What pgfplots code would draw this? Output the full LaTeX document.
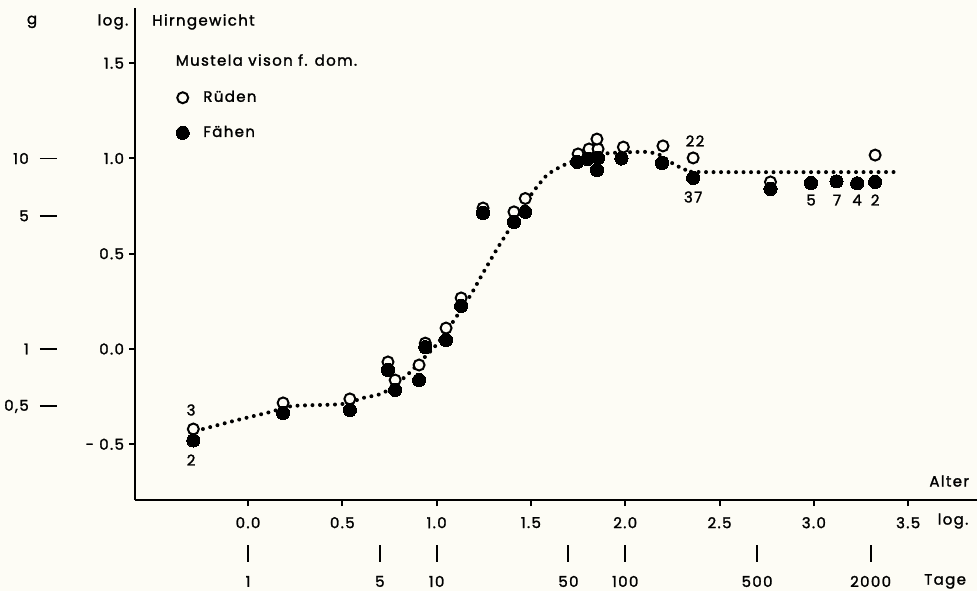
\documentclass[border=0pt]{standalone}
\usepackage{fontspec}
\setmainfont{Poppins}[LetterSpace=9, FakeBold=1.6]
\usepackage{xcolor}
\usepackage{pgfplots}
\pgfplotsset{compat=1.18}
\definecolor{bg}{RGB}{253,252,245}
\pagecolor{bg}
\begin{document}
\begin{tikzpicture}[font=\fontsize{7.5}{8.5}\selectfont]
\begin{axis}[
  x=94.3pt, y=95.25pt,
  xmin=-0.599, xmax=3.865, ymin=-0.793, ymax=1.79,
  axis x line=bottom, axis y line=left,
  axis line style={-, line width=1pt, black},
  xtick={0,0.5,1,1.5,2,2.5,3,3.5},
  xticklabels={0.0,0.5,1.0,1.5,2.0,2.5,3.0,3.5},
  ytick={-0.5,0,0.5,1,1.5},
  yticklabels={- 0.5,0.0,0.5,1.0,1.5},
  tick align=outside, major tick length=3pt,
  tick style={line width=1pt, black},
  xticklabel style={yshift=-2pt},
  yticklabel style={xshift=1pt},
  clip=false,
  legend style={at={(axis cs:-0.415,1.40)}, anchor=north west, draw=none, fill=none,
    row sep=6.5pt, column sep=5pt, font=\fontsize{7.5}{8.5}\selectfont},
  legend cell align=left,
]
% smooth trend curve (dotted)
\addplot[forget plot, black, line width=2pt, line cap=round, dash pattern=on 0pt off 3.75pt, smooth, tension=0.4] coordinates {
(-0.239,-0.42) (-0.058,-0.373) (0.117,-0.331) (0.239,-0.299) (0.498,-0.289)
(0.61,-0.257) (0.716,-0.231) (0.832,-0.147) (0.912,-0.068) (1.002,0.026)
(1.082,0.136) (1.177,0.278) (1.246,0.399) (1.32,0.525) (1.373,0.609)
(1.442,0.719) (1.511,0.824) (1.585,0.913) (1.654,0.955) (1.734,0.992)
(1.813,1.018) (1.93,1.029) (2.052,1.034) (2.121,1.034) (2.185,1.018)
(2.264,0.966) (2.317,0.945) (2.397,0.929) (3.45,0.929)
};
% Rueden (open)
\addplot[only marks, mark=*, mark size=2.75pt, mark options={fill=bg, draw=black, line width=1pt}] coordinates {
(-0.29,-0.42) (0.186,-0.283) (0.54,-0.262) (0.742,-0.068) (0.78,-0.163)
(0.907,-0.084) (0.94,0.031) (1.05,0.11) (1.13,0.268) (1.246,0.74)
(1.41,0.72) (1.47,0.79) (1.75,1.024) (1.808,1.05) (1.856,1.05) (1.85,1.102)
(1.99,1.06) (2.2,1.066) (2.36,1.003) (2.77,0.877) (3.325,1.018)
};
\addlegendentry{Rüden}
% Faehen (filled)
\addplot[only marks, mark=*, mark size=3.3pt, mark options={fill=black, draw=black, line width=0pt}] coordinates {
(-0.29,-0.48) (0.186,-0.336) (0.54,-0.32) (0.742,-0.11) (0.78,-0.215)
(0.907,-0.163) (0.94,0.01) (1.05,0.047) (1.13,0.226) (1.246,0.714)
(1.41,0.667) (1.47,0.72) (1.745,0.982) (1.80,0.997) (1.856,1.003) (1.85,0.94)
(1.98,1.0) (2.195,0.976) (2.36,0.898) (2.77,0.84) (2.985,0.871)
(3.12,0.88) (3.23,0.87) (3.325,0.877)
};
\addlegendentry{Fähen}
% sample sizes
\node at (axis cs:-0.302,-0.32) {3};
\node at (axis cs:-0.302,-0.583) {2};
\node at (axis cs:2.37,1.092) {22};
\node at (axis cs:2.36,0.798) {37};
\node at (axis cs:2.985,0.782) {5};
\node at (axis cs:3.123,0.782) {7};
\node at (axis cs:3.229,0.782) {4};
\node at (axis cs:3.325,0.782) {2};
% titles
\node at (axis cs:-1.145,1.717) {g};
\node at (axis cs:-0.716,1.717) {log.};
\node[anchor=west] at (axis cs:-0.545,1.717) {Hirngewicht};
\node[anchor=west] at (axis cs:-0.42,1.517) {Mustela vison f. dom.};
\node[anchor=east] at (axis cs:3.86,-0.693) {Alter};
\node at (axis cs:3.738,-0.903) {log.};
% gram scale
\node[anchor=east] at (axis cs:-1.125,1) {10};
\node[anchor=east] at (axis cs:-1.125,0.699) {5};
\node[anchor=east] at (axis cs:-1.125,0) {1};
\node[anchor=east] at (axis cs:-1.125,-0.301) {0,5};
\draw[line width=0.9pt] (axis cs:-1.103,1) -- (axis cs:-1.013,1);
\draw[line width=0.9pt] (axis cs:-1.103,0.699) -- (axis cs:-1.013,0.699);
\draw[line width=0.9pt] (axis cs:-1.103,0) -- (axis cs:-1.013,0);
\draw[line width=0.9pt] (axis cs:-1.103,-0.301) -- (axis cs:-1.013,-0.301);
% days scale
\draw[line width=1pt] (axis cs:0,-1.029) -- (axis cs:0,-1.118);
\draw[line width=1pt] (axis cs:0.699,-1.029) -- (axis cs:0.699,-1.118);
\draw[line width=1pt] (axis cs:1,-1.029) -- (axis cs:1,-1.118);
\draw[line width=1pt] (axis cs:1.699,-1.029) -- (axis cs:1.699,-1.118);
\draw[line width=1pt] (axis cs:2,-1.029) -- (axis cs:2,-1.118);
\draw[line width=1pt] (axis cs:2.699,-1.029) -- (axis cs:2.699,-1.118);
\draw[line width=1pt] (axis cs:3.301,-1.029) -- (axis cs:3.301,-1.118);
\node at (axis cs:0,-1.22) {1};
\node at (axis cs:0.699,-1.22) {5};
\node at (axis cs:1,-1.22) {10};
\node at (axis cs:1.699,-1.22) {50};
\node at (axis cs:2,-1.22) {100};
\node at (axis cs:2.699,-1.22) {500};
\node at (axis cs:3.301,-1.22) {2000};
\node at (axis cs:3.696,-1.22) {Tage};
\coordinate (TL) at (axis cs:-1.315,1.832);
\coordinate (BR) at (axis cs:3.865,-1.270);
\end{axis}
\pgfresetboundingbox
\path[use as bounding box] (TL) rectangle (BR);
\end{tikzpicture}
\end{document}
